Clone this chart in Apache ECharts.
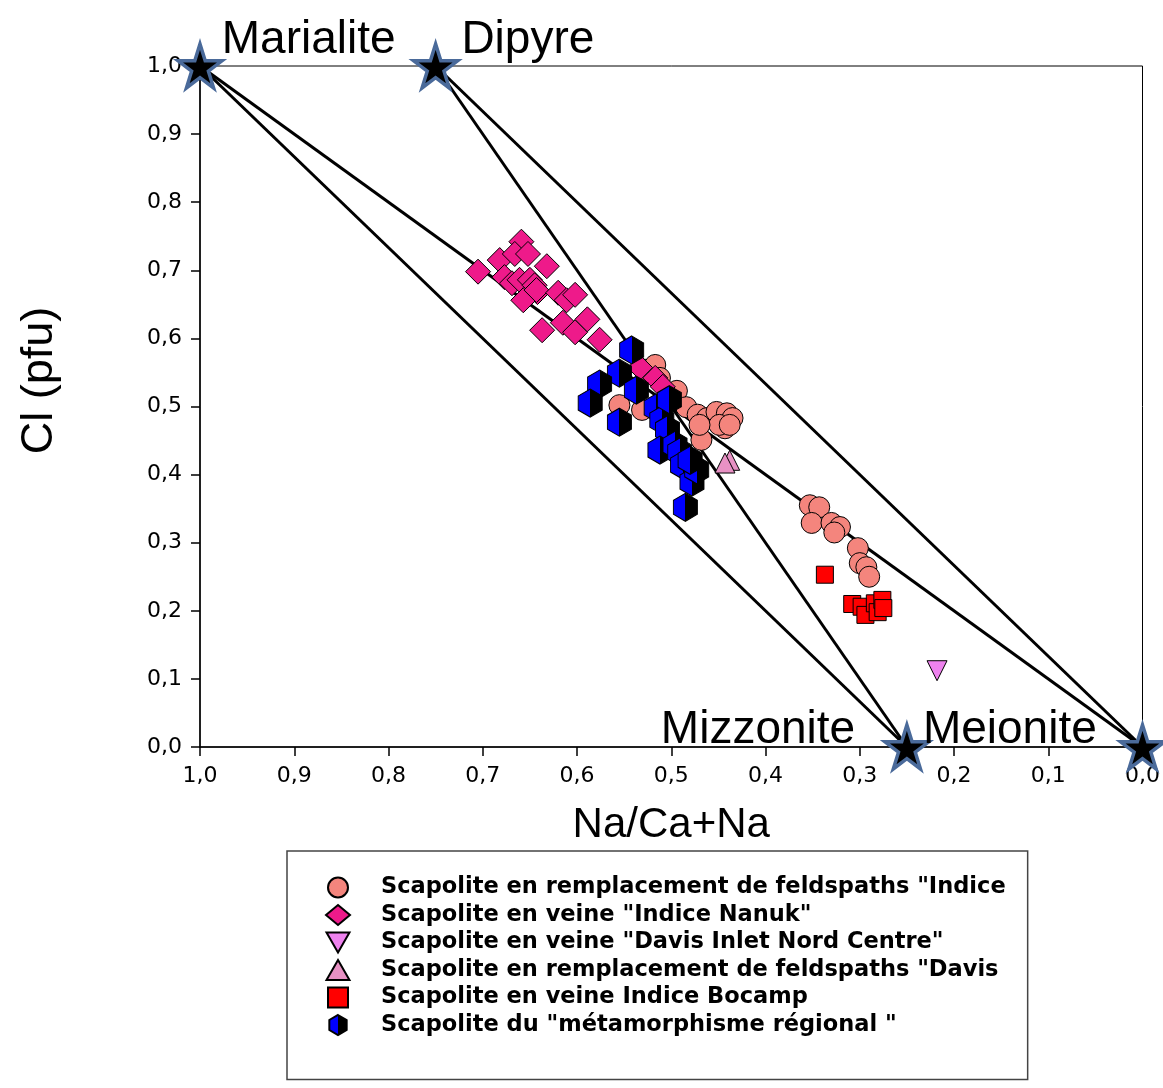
<!DOCTYPE html>
<html>
<head>
    <meta charset="utf-8">
    <style>
        html, body { width: 100%; height: 100%; margin: 0; background: #fff; }
        #chart-panel { width: 1163px; height: 1088px; }
    </style>
    <script src="https://cdn.jsdelivr.net/npm/echarts@6/dist/echarts.min.js"></script>
</head>
<body>
<div id="chart-panel"></div>
<script type="text/javascript">
  // end members: [Na/(Ca+Na), Cl]
  var endMembers = [
    { name: 'Marialite', value: [1.0, 1.0] },
    { name: 'Dipyre', value: [0.75, 1.0] },
    { name: 'Mizzonite', value: [0.25, 0.0] },
    { name: 'Meionite', value: [0.0, 0.0] }
  ]
  // tie lines between end members
  var tieLines = [
    [[1.0, 1.0], [0.25, 0.0]],
    [[1.0, 1.0], [0.0, 0.0]],
    [[0.75, 1.0], [0.25, 0.0]],
    [[0.75, 1.0], [0.0, 0.0]]
  ]

  var feldspathIndice = [
    [0.555, 0.502], [0.531, 0.495], [0.528, 0.554], [0.517, 0.561], [0.512, 0.542],
    [0.494, 0.523], [0.484, 0.499], [0.472, 0.488], [0.462, 0.483], [0.452, 0.492],
    [0.441, 0.490], [0.435, 0.483], [0.443, 0.468], [0.449, 0.473], [0.468, 0.451],
    [0.470, 0.473], [0.438, 0.473],
    [0.353, 0.355], [0.343, 0.352], [0.351, 0.329], [0.330, 0.329], [0.321, 0.323],
    [0.327, 0.315], [0.302, 0.292], [0.300, 0.270], [0.293, 0.264], [0.290, 0.250]
  ]
  var veineNanuk = [
    [0.659, 0.742], [0.682, 0.715], [0.666, 0.724], [0.652, 0.724], [0.705, 0.698],
    [0.632, 0.706], [0.677, 0.690], [0.669, 0.681], [0.661, 0.686], [0.650, 0.686],
    [0.645, 0.678], [0.642, 0.668], [0.657, 0.656], [0.643, 0.671], [0.620, 0.667],
    [0.611, 0.656], [0.602, 0.664], [0.637, 0.612], [0.615, 0.623], [0.602, 0.609],
    [0.589, 0.628], [0.576, 0.598], [0.533, 0.557], [0.517, 0.542], [0.509, 0.529]
  ]
  var veineDavis = [
    [0.218, 0.112]
  ]
  var feldspathDavis = [
    [0.438, 0.421], [0.443, 0.417]
  ]
  var veineBocamp = [
    [0.337, 0.253], [0.308, 0.210], [0.298, 0.206], [0.294, 0.194], [0.284, 0.211],
    [0.281, 0.198], [0.276, 0.216], [0.275, 0.204]
  ]
  var metamorphisme = [
    [0.542, 0.583], [0.555, 0.549], [0.576, 0.533], [0.586, 0.505], [0.537, 0.524],
    [0.555, 0.477], [0.516, 0.498], [0.510, 0.480], [0.504, 0.466], [0.512, 0.436],
    [0.496, 0.443], [0.491, 0.433], [0.488, 0.414], [0.478, 0.389], [0.473, 0.407],
    [0.485, 0.352], [0.502, 0.510], [0.480, 0.421]
  ]

  var seriesNames = [
    'Scapolite en remplacement de feldspaths "Indice',
    'Scapolite en veine "Indice Nanuk"',
    'Scapolite en veine "Davis Inlet Nord Centre"',
    'Scapolite en remplacement de feldspaths "Davis',
    'Scapolite en veine Indice Bocamp',
    'Scapolite du "métamorphisme régional "'
  ]

  var starPath = 'path://M0,-100 L22.5,-30.9 L95.1,-30.9 L36.3,11.8 L58.8,80.9 L0,38.2 L-58.8,80.9 L-36.3,11.8 L-95.1,-30.9 L-22.5,-30.9 Z'
  var hexPath = 'path://M0,-100 L86.6,-50 L86.6,50 L0,100 L-86.6,50 L-86.6,-50 Z'
  var downTriPath = 'path://M0,0 L100,0 L50,87 Z'
  var upTriPath = 'path://M50,0 L100,87 L0,87 Z'
  var squarePath = 'path://M0,0 L100,0 L100,100 L0,100 Z'
  var font = 'Arial, "Liberation Sans", sans-serif'
  var wideFont = '"DejaVu Sans", Arial, sans-serif'

  var fmt = function (v) { return v.toFixed(1).replace('.', ',') }

  var myChart = echarts.init(document.getElementById('chart-panel'))

  var hexFill = new echarts.graphic.LinearGradient(0, 0, 1, 0, [
    { offset: 0, color: '#0000ff' }, { offset: 0.5, color: '#0000ff' },
    { offset: 0.5, color: '#000000' }, { offset: 1, color: '#000000' }
  ])

  var labelOffsets = {
    'Marialite': { position: 'right', offset: [-2, -26] },
    'Dipyre': { position: 'right', offset: [2, -26] },
    'Mizzonite': { position: 'left', offset: [-28, -17] },
    'Meionite': { position: 'left', offset: [-22, -17] }
  }

  var legendIcons = [null, null, downTriPath, upTriPath, squarePath, null]

  var option = {
    animation: false,
    textStyle: { fontFamily: font },
    grid: {
      left: 200, right: 20, top: 66, bottom: 341,
      show: true, borderColor: '#000', borderWidth: 1
    },
    xAxis: {
      type: 'value', min: 0, max: 1, interval: 0.1, inverse: true,
      name: 'Na/Ca+Na', nameLocation: 'middle', nameGap: 57,
      nameTextStyle: { fontSize: 42, color: '#000', fontFamily: font },
      axisLine: { show: true, onZero: false, lineStyle: { color: '#000', width: 1.5 } },
      axisTick: { show: true, inside: false, length: 9, lineStyle: { color: '#000', width: 1.5 } },
      axisLabel: { formatter: fmt, fontSize: 22, color: '#000', margin: 18, fontFamily: wideFont },
      splitLine: { show: false }
    },
    yAxis: {
      type: 'value', min: 0, max: 1, interval: 0.1,
      name: 'Cl (pfu)', nameLocation: 'middle', nameGap: 138,
      nameTextStyle: { fontSize: 45, color: '#000', fontFamily: font, padding: [0, 0, 0, 52] },
      axisLine: { show: true, onZero: false, lineStyle: { color: '#000', width: 1.5 } },
      axisTick: { show: true, inside: false, length: 9, lineStyle: { color: '#000', width: 1.5 } },
      axisLabel: { formatter: fmt, fontSize: 22, color: '#000', margin: 18, fontFamily: wideFont },
      splitLine: { show: false }
    },
    legend: {
      orient: 'vertical', left: 287, top: 851,
      padding: [25, 22, 43, 38],
      borderColor: '#444', borderWidth: 1.5,
      itemWidth: 24, itemHeight: 20, itemGap: 4.5,
      data: seriesNames.map(function (n, i) {
        return legendIcons[i] ? { name: n, icon: legendIcons[i] } : { name: n }
      }),
      textStyle: {
        fontSize: 22.5, fontWeight: 'bold', color: '#000', fontFamily: wideFont,
        lineHeight: 20, padding: [0, 0, 0, 26]
      }
    },
    series: []
  }

  tieLines.forEach(function (seg) {
    option.series.push({
      type: 'line', data: seg, symbol: 'none', silent: true, z: 1,
      lineStyle: { color: '#000', width: 3 }
    })
  })

  var scatterDefs = [
    { data: feldspathIndice, symbol: 'circle', size: 21, color: '#f4857d' },
    { data: veineNanuk, symbol: 'diamond', size: 25, color: '#ee1a8a' },
    { data: veineDavis, symbol: 'triangle', size: 20, color: '#ee82ee', rotate: 180 },
    { data: feldspathDavis, symbol: 'triangle', size: 20, color: '#e891c4' },
    { data: veineBocamp, symbol: 'rect', size: 17, color: '#ff0000' },
    { data: metamorphisme, symbol: hexPath, size: [24, 28], color: hexFill }
  ]

  scatterDefs.forEach(function (d, i) {
    option.series.push({
      name: seriesNames[i], type: 'scatter', data: d.data, z: 3,
      symbol: d.symbol, symbolSize: d.size, symbolRotate: d.rotate || 0,
      itemStyle: { color: d.color, borderColor: '#000', borderWidth: 1, opacity: 1 }
    })
  })

  option.series.push({
    type: 'scatter', z: 5, silent: true,
    symbol: starPath, symbolSize: 44,
    itemStyle: { color: '#000', borderColor: '#4a6a9a', borderWidth: 3.5, opacity: 1 },
    data: endMembers.map(function (m) {
      return {
        name: m.name, value: m.value,
        label: {
          show: true, formatter: m.name, fontSize: 46, color: '#000', fontFamily: font,
          position: labelOffsets[m.name].position, distance: 0,
          offset: labelOffsets[m.name].offset
        }
      }
    })
  })

  myChart.setOption(option)
</script>
</body>
</html>
